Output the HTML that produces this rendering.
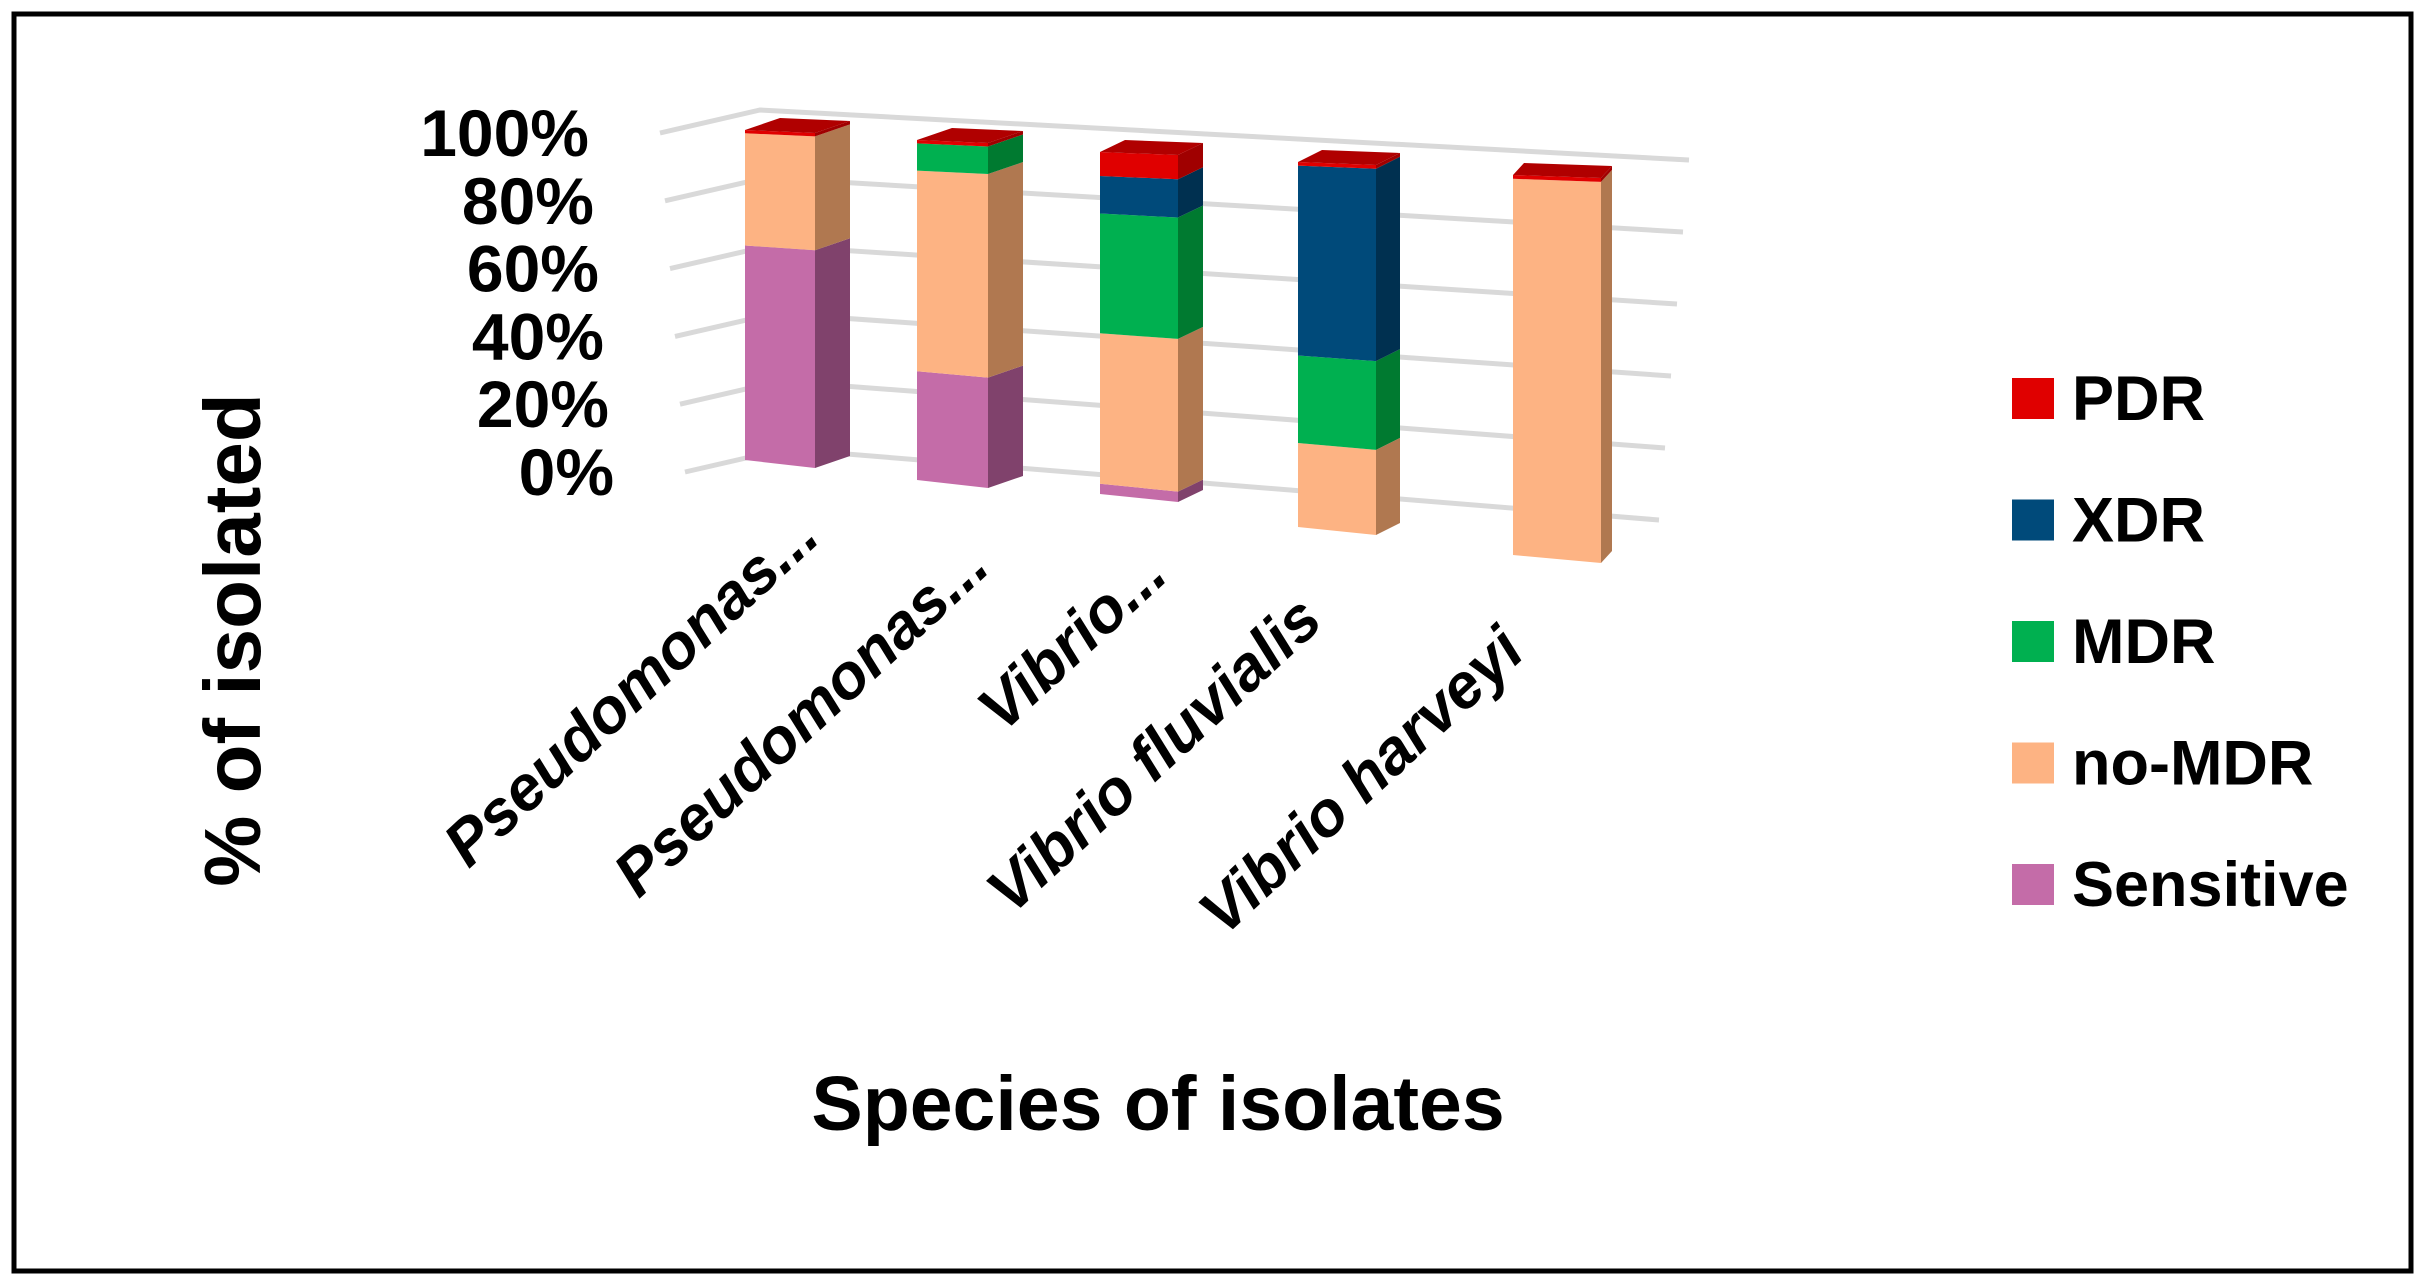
<!DOCTYPE html>
<html><head><meta charset="utf-8"><style>
html,body{margin:0;padding:0;background:#fff;}
svg{display:block;font-family:"Liberation Sans",sans-serif;}
</style></head><body>
<svg id="chart" width="2431" height="1286" viewBox="0 0 2431 1286" xmlns="http://www.w3.org/2000/svg">
<rect x="14" y="14" width="2397" height="1257" fill="#fff" stroke="#000" stroke-width="5"/>
<g id="grid"></g>
<g id="ticks"></g>
<g id="bars"></g>
<g id="xlabels"></g>
<text transform="translate(260,640) rotate(-90)" text-anchor="middle" font-size="80" font-weight="bold">% of isolated</text>
<text x="1158" y="1130" text-anchor="middle" font-size="77" font-weight="bold">Species of isolates</text>
<g id="legend"></g>
</svg>
<script>
const categories = ["Pseudomonas...", "Pseudomonas...", "Vibrio...", "Vibrio fluvialis", "Vibrio harveyi"];
const seriesNames = ["Sensitive", "no-MDR", "MDR", "XDR", "PDR"];
const sensitive = [65, 32, 3, 0, 0];
const noMDR = [34, 59, 44, 23, 99];
const mdr = [0, 8, 35, 24, 0];
const xdr = [0, 0, 11, 52, 0];
const pdr = [1, 1, 7, 1, 1];
const tickLabels = ["100%", "80%", "60%", "40%", "20%", "0%"];
const tickValues = [100, 80, 60, 40, 20, 0];

const NS = "http://www.w3.org/2000/svg";
const series = [sensitive, noMDR, mdr, xdr, pdr];
const front = ["#c46ca8", "#fdb383", "#00b050", "#004a7a", "#e00000"];
const side = ["#80426c", "#b07850", "#007a30", "#003050", "#a00000"];
const topc = ["#a85890", "#d89870", "#009040", "#003a62", "#b00000"];
const barX = [745, 917, 1100, 1298, 1513];
const barW = [70, 71, 78, 78, 88];
const barD = [35, 35, 25, 24, 11];
const baseY = [460, 480, 494, 527, 555];
const topY = [130, 140, 152, 162, 175];
function yAt(i, v, right) {
  const b = baseY[i] + (right ? 8 : 0), t = topY[i] + (right ? 3 : 0);
  return b - (b - t) * v / 100;
}
function poly(g, pts, fill, name) {
  const p = document.createElementNS(NS, "polygon");
  p.setAttribute("points", pts.map(q => q.join(",")).join(" "));
  p.setAttribute("fill", fill);
  
  
  g.appendChild(p);
}
const grid = document.getElementById("grid");
const gridFrontY = v => 472 - (472 - 133) * v / 100;
const gridRightY = v => 520 - (520 - 160) * v / 100;
tickValues.forEach((v, k) => {
  const fx = 660 + (100 - v) / 20 * 5, fy = gridFrontY(v);
  const bx = fx + 100, by = fy - 23;
  const rx = 1689 - (100 - v) / 20 * 6, ry = gridRightY(v);
  const pl = document.createElementNS(NS, "polyline");
  pl.setAttribute("points", `${fx},${fy} ${bx},${by} ${rx},${ry}`);
  pl.setAttribute("fill", "none");
  pl.setAttribute("stroke", "#d9d9d9");
  pl.setAttribute("stroke-width", "5");
  
  
  grid.appendChild(pl);
  const t = document.createElementNS(NS, "text");
  t.setAttribute("x", 589 + (100 - v) / 20 * 5);
  t.setAttribute("y", fy + 23);
  t.setAttribute("text-anchor", "end");
  t.setAttribute("font-size", "66");
  t.setAttribute("font-weight", "bold");
  t.textContent = tickLabels[k];
  
  
  document.getElementById("ticks").appendChild(t);
});
const bars = document.getElementById("bars");
categories.forEach((c, i) => {
  const g = document.createElementNS(NS, "g");
  
  
  bars.appendChild(g);
  let acc = 0, lastS = 0;
  const x0 = barX[i], x1 = barX[i] + barW[i], d = barD[i], dy = 12;
  series.forEach((s, j) => {
    const v = s[i];
    if (v <= 0) return;
    const a = acc, b = acc + v;
    acc = b; lastS = j;
    poly(g, [[x0, yAt(i, a, 0)], [x1, yAt(i, a, 1)], [x1, yAt(i, b, 1)], [x0, yAt(i, b, 0)]], front[j], 'bar-segment-' + seriesNames[j].toLowerCase());
    poly(g, [[x1, yAt(i, a, 1)], [x1 + d, yAt(i, a, 1) - dy], [x1 + d, yAt(i, b, 1) - dy], [x1, yAt(i, b, 1)]], side[j], 'bar-side-' + seriesNames[j].toLowerCase());
  });
  const yl = yAt(i, acc, 0), yr = yAt(i, acc, 1);
  poly(g, [[x0, yl], [x1, yr], [x1 + d, yr - dy], [x0 + d, yl - dy]], topc[lastS], 'bar-top');
});
const labelEnd = [[822, 540], [992, 570], [1170, 578], [1325, 624], [1527, 655]];
categories.forEach((c, i) => {
  const t = document.createElementNS(NS, "text");
  t.setAttribute("transform", `translate(${labelEnd[i][0]},${labelEnd[i][1]}) rotate(-43)`);
  t.setAttribute("text-anchor", "end");
  t.setAttribute("font-size", "63");
  t.setAttribute("font-weight", "bold");
  t.setAttribute("font-style", "italic");
  t.textContent = c;
  
  
  document.getElementById("xlabels").appendChild(t);
});
const legend = document.getElementById("legend");
const legOrder = [4, 3, 2, 1, 0];
legOrder.forEach((j, k) => {
  const base = 420 + k * 121.5;
  const r = document.createElementNS(NS, "rect");
  r.setAttribute("x", 2012); r.setAttribute("y", base - 42);
  r.setAttribute("width", 42); r.setAttribute("height", 41);
  r.setAttribute("fill", front[j]);
  
  
  legend.appendChild(r);
  const t = document.createElementNS(NS, "text");
  t.setAttribute("x", 2072); t.setAttribute("y", base);
  t.setAttribute("font-size", "63"); t.setAttribute("font-weight", "bold");
  t.textContent = seriesNames[j];
  
  
  legend.appendChild(t);
});
</script>
</body></html>
